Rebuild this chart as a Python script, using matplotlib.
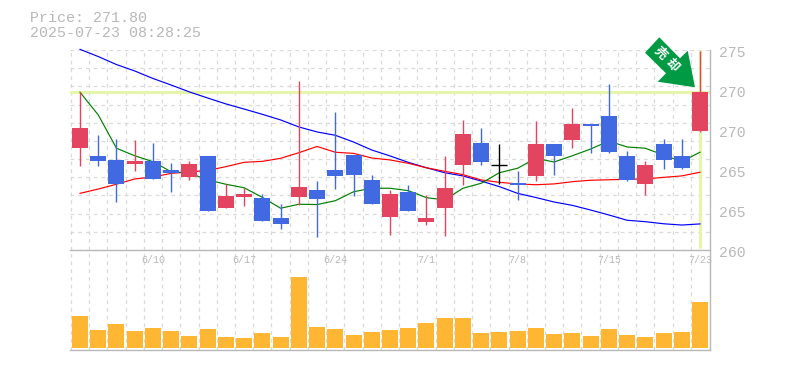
import matplotlib
matplotlib.use("Agg")
import matplotlib.pyplot as plt
from matplotlib.patches import Polygon
from matplotlib.transforms import ScaledTranslation

plt.rcParams['font.family'] = ['Noto Sans CJK JP', 'DejaVu Sans']

W, H = 785, 370
title_price = "Price: 271.80"
title_time = "2025-07-23 08:28:25"

highs = [269.88,267.19,266.94,266.88,266.69,265.44,265.56,265.88,264.13,263.88,263.5,262.88,270.56,264.31,268.63,265.94,264.69,263.75,264.06,263.44,265.88,268.13,267.63,266.63,264.94,268.06,266.63,268.88,267.88,270.38,266.19,265.56,266.94,266.94,272.44]
lows = [265.27,265.25,263.02,264.94,264.44,263.63,264.38,262.44,262.63,262.75,261.81,261.31,262.81,260.81,263.81,263.38,262.88,260.94,262.44,261.56,260.88,264.06,265.31,264.13,263.13,264.31,264.69,266.38,266.06,266.06,264.31,263.44,265.06,265.06,267.38]
opens = [266.39,265.88,265.63,265.38,265.56,265.0,264.56,265.88,262.63,263.31,263.25,262.0,263.31,263.75,265.0,265.94,264.38,262.06,263.63,261.75,262.63,265.31,266.69,265.29,264.16,264.63,266.63,266.88,267.88,268.38,265.88,264.13,266.63,265.88,267.44]
closes = [267.63,265.56,264.13,265.56,264.44,264.81,265.38,262.44,263.38,263.5,261.81,261.63,263.94,263.19,264.63,264.69,262.88,263.5,262.44,262.0,263.88,267.25,265.5,265.29,264.06,266.63,265.88,267.88,267.75,266.13,264.38,265.31,265.63,265.13,269.88]
ma_short = [269.86,268.44,266.36,265.89,265.52,264.89,264.81,264.38,264.11,263.89,263.29,262.61,262.86,262.84,263.08,263.64,263.86,263.86,263.71,263.27,263.13,263.86,264.17,264.83,265.11,265.73,265.5,265.89,266.31,266.81,266.44,266.36,265.94,265.52,266.11]
ma_mid = [263.54,263.81,264.11,264.44,264.56,264.79,264.88,264.97,265.21,265.48,265.54,265.73,266.08,266.47,266.11,266.04,265.75,265.63,265.42,265.14,264.92,264.71,264.38,264.23,264.13,264.08,264.13,264.27,264.36,264.39,264.42,264.44,264.54,264.63,264.86]
ma_long = [272.54,272.09,271.59,271.19,270.72,270.31,269.88,269.5,269.13,268.81,268.48,268.13,267.69,267.38,267.17,266.75,266.25,265.88,265.48,265.14,264.83,264.63,264.31,263.96,263.54,263.28,263.0,262.79,262.5,262.19,261.86,261.77,261.64,261.56,261.63]
volumes = [32,18,24,17,20,17,12,19,11,10,15,11,71,21,19,13,16,18,20,25,30,30,15,16,17,20,14,15,12,19,13,11,15,16,46]

y_ticks = [272.5,270,267.5,265,262.5,260]
y_labels = ["275","270","270","265","265","260"]
date_pos = [4,9,14,19,24,29,34]
date_labels = ["6/10","6/17","6/24","7/1","7/8","7/15","7/23"]

RED = "#E34460"; BLUE = "#4169E1"; ORANGE = "#FFB733"; PALE = "#E5F5A9"
GREY = "#B8B8B8"; GRID = "#DADADA"; ARROW = "#009A44"

fig = plt.figure(figsize=(W/100, H/100), dpi=100)
def axbox(x0, y0, x1, y1):
    return [x0/W, 1-y1/H, (x1-x0)/W, (y1-y0)/H]
ax = fig.add_axes(axbox(70, 50, 710, 250))
av = fig.add_axes(axbox(70, 250, 710, 350), sharex=ax)
n = len(closes)
xs = list(range(n))
xlim = (-0.55, 34.55)
ax.set_xlim(xlim)
ax.set_ylim(260, 272.5)
av.set_ylim(-2, 98)

dash = dict(color=GRID, lw=0.9, ls=(0, (3, 3.2)), zorder=0)
edges = [i-0.5 for i in range(n+1)]
for a in (ax, av):
    for e in edges[:-1]:
        a.axvline(e, **dash)
    for s in a.spines.values():
        s.set_visible(False)
for k in range(12):
    ax.axhline(260 + k*12.5/11, **dash)

ax.axhline(closes[-1], color=PALE, lw=2.2, zorder=1)
ax.plot([xs[-1], xs[-1]], [260.1, 272.5], color=PALE, lw=2.2, zorder=1, solid_capstyle='butt')

ax.plot(xs, ma_long, color="#0000FF", lw=0.85, zorder=2, clip_on=False)
ax.plot(xs, ma_mid, color="#FF0000", lw=0.85, zorder=2)
ax.plot(xs, ma_short, color="#008000", lw=0.85, zorder=2)

bw = 16/18.235
for i in xs:
    o, c = opens[i], closes[i]
    col = RED if c > o else (BLUE if c < o else "black")
    ax.vlines(i, lows[i], highs[i], color=col, lw=1.0, zorder=3)
    if c == o:
        ax.hlines(o, i-bw/2, i+bw/2, color=col, lw=1.0, zorder=3)
    else:
        ax.bar(i, abs(c-o), bottom=min(o, c), width=bw, color=col, lw=0, zorder=4)

av.bar(xs, volumes, width=bw, color=ORANGE, lw=0, zorder=2)

ax.yaxis.tick_right()
ax.set_yticks(y_ticks, y_labels)
ax.tick_params(axis='y', length=0, pad=6.5, labelsize=10.6, labelcolor=GREY)
off = ScaledTranslation(0, -1.5/100, fig.dpi_scale_trans)
for t in ax.get_yticklabels():
    t.set_fontfamily('Liberation Mono')
    t.set_transform(t.get_transform() + off)
ax.tick_params(axis='x', length=0, labelbottom=False)

av.set_yticks([])
av.set_xticks(date_pos, date_labels)
av.tick_params(axis='x', length=0, bottom=False, top=False, labelbottom=False, labeltop=True,
               pad=-11, labelsize=7.2, labelcolor=GREY)
for t in av.get_xticklabels():
    t.set_fontfamily('Liberation Mono')
ax.set_xlim(xlim)

def line(x0, y0, x1, y1):
    fig.add_artist(plt.Line2D([x0/W, x1/W], [1-y0/H, 1-y1/H], color=GREY, lw=1.0, zorder=5))
line(70, 250, 710, 250)
line(70, 350, 710, 350)
line(710, 50, 710, 350)

pts = [(659.3,37.3),(645,52.7),(666,73.3),(657.7,81.7),(695,87.3),(687.7,50.7),(680,58.3)]
fig.add_artist(Polygon([(x/W, 1-y/H) for x, y in pts], closed=True, transform=fig.transFigure,
                       facecolor=ARROW, edgecolor='none', zorder=6))
fig.text(660/W, 1-53/H, "売", color="white", fontsize=9, fontweight='bold', rotation=-45,
         ha='center', va='center', zorder=7)
fig.text(672/W, 1-65/H, "却", color="white", fontsize=9, fontweight='bold', rotation=-45,
         ha='center', va='center', zorder=7)

fig.text(30/W, 1-18/H, title_price, color=GREY, fontsize=10.8, family='Liberation Mono', va='center')
fig.text(30/W, 1-33/H, title_time, color=GREY, fontsize=10.8, family='Liberation Mono', va='center')

fig.savefig("out.png", dpi=100)
